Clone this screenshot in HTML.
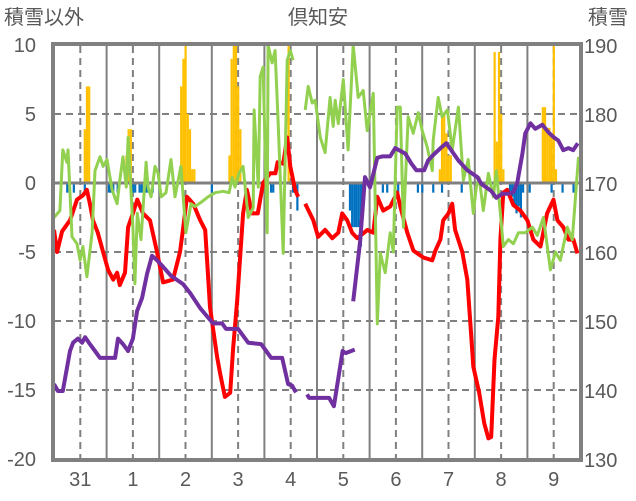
<!DOCTYPE html>
<html><head><meta charset="utf-8"><style>
body{margin:0;background:#fff}
svg{display:block;font-family:"Liberation Sans","Noto Sans CJK JP",sans-serif}
</style></head><body>
<svg id="c" width="636" height="501" viewBox="0 0 636 501">
<rect width="636" height="501" fill="#fff"/>
<text x="4" y="24" font-size="20" fill="#595959">積雪以外</text>
<text x="318" y="24" font-size="20" fill="#595959" text-anchor="middle">倶知安</text>
<text x="588" y="24" font-size="20" fill="#595959">積雪</text>
<g id="grid"></g><g id="bars"></g><g id="lines"></g><g id="axes"></g>
</svg>
<script>
const leftTicks=[10,5,0,-5,-10,-15,-20];
const rightTicks=[190,180,170,160,150,140,130];
const dayLabels=["31","1","2","3","4","5","6","7","8","9"];
const barHours=[14,15,16,33,34,35,58,59,60,61,62,63,64,80,81,82,83,84,85,107,176,177,178,179,180,181,201,202,203,204,205,223,224,225,226,227,228,229,
6,7,9,14,25,26,27,29,35,36,37,39,40,42,43,45,72,95,97,99,100,109,110,111,135,136,137,138,139,140,141,150,152,157,166,168,173,177,186,208,209,210,211,212,213,214,217,227,232,237];
const barVals=[3.9,7,7,2,3.9,3.9,7,9,10,5,3.9,1,1,2,9,10,10,7,3.9,10,1,5,5,3.6,2,2,9.5,3,9.5,5,1,5.5,5.5,4,4,3.6,10,1,
-0.7,-0.7,-0.7,-0.7,-0.7,-0.7,-0.7,-0.7,-0.7,-0.7,-0.7,-0.7,-0.7,-0.7,-0.7,-0.7,-0.7,-0.7,-0.7,-0.7,-0.7,-0.7,-0.7,-2,-2,-3.2,-3.2,-3.2,-3.2,-4.6,-2,-0.7,-0.7,-0.7,-0.7,-0.7,-0.7,-0.7,-0.7,-0.7,-1,-1.7,-2.2,-1.7,-2.5,-0.7,-0.7,-0.7,-0.7,-0.7];
const tempHours=[0,1.4,3.7,7.3,10.5,13.2,15,16.4,17.8,20,22.4,24.7,27,28.8,30,32.4,33.8,36,38,40.6,43.8,47,49.8,54.3,57.5,59,60.7,63.5,66.7,69,71.2,74.4,75.8,78,80.4,81.7,83.6,86.3,88,90.4,93,95.4,98.6,101,102,104.6,106.4,107.8,110,111.4,113,114.6,118.3,120.5,123.7,127,129.7,131.5,133.8,136,138.4,143,145.7,147.5,150.2,153.4,156.6,158,161.2,164,168.5,172.6,174,176.3,177.6,180,181.7,183,186.3,188.6,190,191.3,194,196.3,198.2,199.5,201,202.7,203.7,205,206.8,209.6,212.8,216,218.7,222,225,227.9,229.7,232.4,234.7,237,238.8];
const tempVals=[-3.4,-5,-3.5,-2.7,-1.2,-0.9,-0.5,-1.5,-2.7,-3.6,-5,-6.3,-7,-6.5,-7.4,-6.5,-3.2,-2.2,-1.2,-2.2,-2.7,-5,-7.2,-7,-5,-3.2,-1,-1.5,-2.7,-3.4,-9,-12.6,-13.8,-15.5,-15.2,-12,-8.5,-2.2,-0.5,-2.2,-2.2,0,0.7,0.7,1.5,1.4,3.3,1.2,-0.5,-1,null,-1.5,-2.7,-3.9,-3.4,-4,-3.6,-2.2,-2.7,-3.6,-4,-3.4,-3.6,-1,-2,-1.7,-0.7,-1.7,-3.6,-4.9,-5.4,-5.6,-4.9,-4.1,-2.7,-2.2,-1.5,-3.4,-5,-7,-10.2,-13.3,-15.2,-17.4,-18.5,-18.4,-12.8,-9.7,-4.1,-0.7,-0.5,-1.6,-2,-2.7,-4.1,-4.6,-2.2,-1.2,-2.7,-3.2,-4.1,-4.1,-5.1];
const greenHours=[0,2.7,4,5.9,6.4,8.2,10.5,11.9,13.2,15,17.4,18.7,21,22.4,24.2,26.5,28.8,30,31.5,33,33.8,36,36.9,38,39.7,42,42.9,44.3,46.1,47.5,48.9,51.1,53.4,55.2,57.9,60.2,62.5,64.3,67.1,70.3,73.5,77.2,79.9,81.3,82.6,84.4,86.3,88.6,90.9,91.3,93.2,94.1,95.4,97.3,97.7,99.5,100.9,102.3,104.6,106.4,107.8,109.1,110,114.6,116,117.8,119.2,121.5,123.7,126,127.4,128.3,129.7,132,134.2,136.5,138.8,141.1,142.9,145.7,147.5,148.9,151.1,153.4,154.8,156.6,158,159.4,161.6,163.9,166.2,168,170.3,172.6,173,175.3,177.1,179.5,181.7,184.5,186.8,189,191.3,192.7,194,195.9,198.2,200.5,201.8,203.7,205,207.3,209.6,211.9,215,218.3,220.5,223.3,226.5,228.8,231,234.2,236.5,239.3];
const greenVals=[-2.5,-2,2.4,1.5,2.4,-3.9,-4.4,-5.6,-4.6,-6.8,-3.6,0.9,1.9,1.2,1.7,-0.5,-1.5,0.2,1.9,-0.3,3.3,-3.2,-7.3,-2.2,-4.1,1.5,-0.3,-1,1.2,0.7,-1,-0.7,1.7,-1,1.2,-3.6,-1.5,-1.7,-1.4,-1,-0.7,-0.6,-0.7,0.4,-0.3,0.7,1.2,-2.5,-1.8,5.3,-0.3,7.7,8.4,-3.6,10,8.7,9.6,4.3,-5.1,8.9,9.6,8.9,null,5.3,7,5.8,6,3.3,2.2,6.2,4.1,6,4.3,7.5,2.4,10,6.2,6.7,3.8,6.5,-10.2,-5.1,-6.5,-3.6,-5,5.5,5.5,-3.2,4.8,3.6,5.1,3.8,2.6,0.9,3.1,6.2,4.8,5.3,2.4,5.5,0.2,1.7,-2.2,-0.3,0.4,-2,0.7,-1,0.9,-2.2,-4.6,-4.1,-4.4,-3.6,-3.6,-3.2,-3.8,-2.5,-6.3,-5,-5.6,-3.2,-4.1,1.9];
const snowHours=[0,1.8,4,7.3,8.7,10.9,12.8,14.2,16.4,18.7,21,27.9,29.2,31.5,33.8,36,37.9,40.2,42.5,44.7,46.8,49.8,53.4,56.6,58.9,62.1,66.7,69.9,72.6,76.7,78.5,84,88.6,94.5,96.8,99.1,104.1,106.8,108.6,110.4,null,115.5,116.4,124.1,125.5,127.7,131.7,133.1,137.2,null,136.5,139.7,141.9,144.2,147.5,149.8,153.4,155.7,160.3,163,165.3,168.9,170.7,173,176.7,179,181.3,184.5,188.6,193.2,195,199.5,201.8,204.6,207.3,209.6,211.4,213.7,215,217.4,219.6,222.8,225.6,227.9,230.1,232.4,234.7,236.9,239];
const snowVals=[141,140,140,145.8,147,147.6,147,147.8,146.8,145.8,144.8,144.8,147.6,146.8,145.8,147.6,151.6,153.5,157,159.6,159,158,156.7,156,155.5,154.2,152,150.8,149.8,149.8,149,149,147,146.8,145.8,144.8,144.8,141,140.8,139.8,null,139.5,139,139,139,137.8,145.8,145.5,146,null,153,161.8,171,169.5,173.8,174,174,175.2,174.4,173,172,172,173.4,174.2,175.3,175.9,174.9,173.4,172,171,170,169,168,168.6,168.6,168.8,170.2,174.4,177.3,178.8,178,178.6,177.5,176.8,176.3,174.9,175.2,174.9,175.9,174.9,176];

const NS="http://www.w3.org/2000/svg";
const X0=54,X1=580,Y0=46,Y1=460,H=240;
const xs=h=>X0+h*(X1-X0)/H;
const yl=v=>183-v*(Y1-Y0)/30;
const yr=v=>Y0+(190-v)*(Y1-Y0)/60;
function mk(tag,attrs,parent){const e=document.createElementNS(NS,tag);for(const k in attrs)e.setAttribute(k,attrs[k]);parent.appendChild(e);return e;}
const grid=document.getElementById('grid'),bars=document.getElementById('bars'),lines=document.getElementById('lines'),axes=document.getElementById('axes');
leftTicks.forEach((t,i)=>{
  const y=yl(t);
  if(t!==10&&t!==-20&&t!==0){const g=mk('line',{x1:X0,x2:X1,y1:y,y2:y,stroke:'#808080','stroke-width':2,'stroke-dasharray':'7,5'},grid);
  
  }
  const tl=mk('text',{x:36,y:y+7,'font-size':20,fill:'#595959','text-anchor':'end'},axes);tl.textContent=t;
  
  
});
rightTicks.forEach(t=>{
  const tl=mk('text',{x:584,y:yr(t)+7,'font-size':20,fill:'#595959'},axes);tl.textContent=t;
  
  
});
for(let d=0;d<10;d++){
  if(d>0){const s=mk('line',{x1:xs(d*24),x2:xs(d*24),y1:Y0,y2:Y1,stroke:'#808080','stroke-width':2},grid);
  
  }
  const n=mk('line',{x1:xs(d*24+12),x2:xs(d*24+12),y1:Y0,y2:Y1,stroke:'#808080','stroke-width':2,'stroke-dasharray':'7,5'},grid);
  
  
  const tl=mk('text',{x:xs(d*24+12),y:486,'font-size':20,fill:'#595959','text-anchor':'middle'},axes);tl.textContent=dayLabels[d];
  
  
}
barHours.forEach((h,i)=>{
  const v=barVals[i],y=yl(Math.max(v,0)),hh=Math.abs(yl(v)-yl(0));
  const b=mk('rect',{x:xs(h)-1,y:y,width:2.2,height:hh,fill:v>=0?'#FFC000':'#0070C0'},bars);
  
  
});
const zl=mk('line',{x1:X0,x2:X1,y1:yl(0),y2:yl(0),stroke:'#808080','stroke-width':3},bars);


function path(hs,vs,yf){let d='',pen=false;hs.forEach((h,i)=>{const v=vs[i];if(h===null||v===null){pen=false;return;}d+=(pen?'L':'M')+xs(h).toFixed(1)+','+yf(v).toFixed(1);pen=true;});return d;}
const pr=mk('path',{d:path(tempHours,tempVals,yl),fill:'none',stroke:'#FF0000','stroke-width':4,'stroke-linejoin':'round'},lines);


const pg=mk('path',{d:path(greenHours,greenVals,yl),fill:'none',stroke:'#92D050','stroke-width':3,'stroke-linejoin':'round'},lines);


const pp=mk('path',{d:path(snowHours,snowVals,yr),fill:'none',stroke:'#7030A0','stroke-width':4,'stroke-linejoin':'round'},lines);


const fr=mk('rect',{x:X0-1,y:Y0-2,width:X1-X0+2,height:Y1-Y0+2,fill:'none',stroke:'#808080','stroke-width':4},axes);


</script>
</body></html>
